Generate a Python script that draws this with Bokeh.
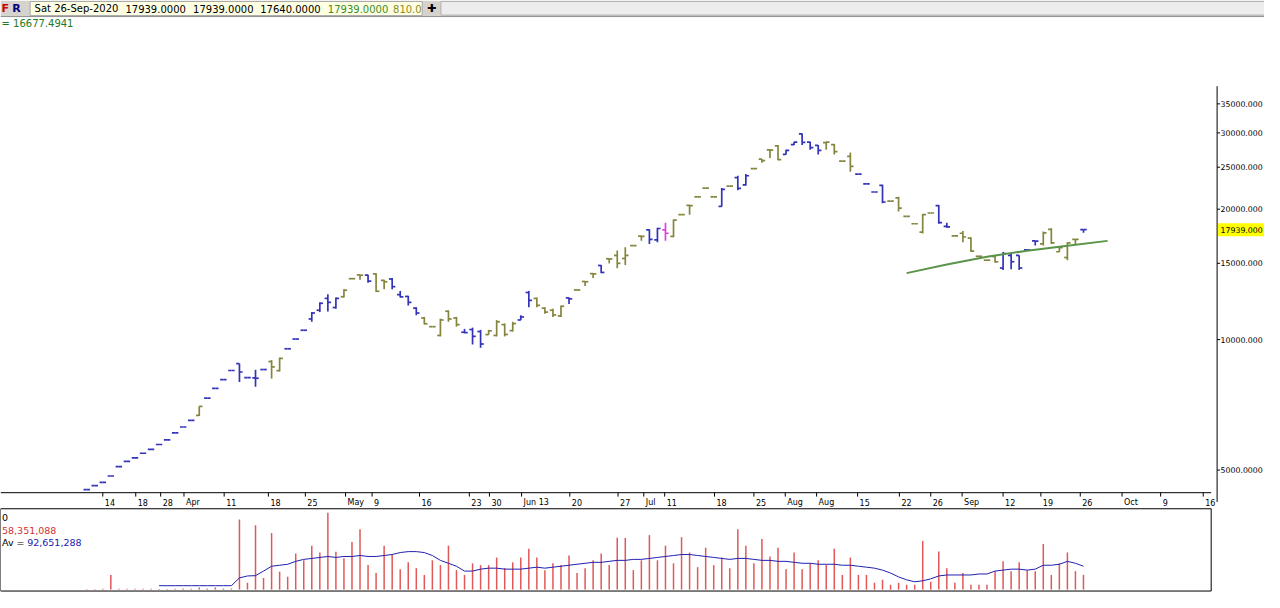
from bokeh.plotting import figure
from bokeh.models import Range1d, LinearScale, ColumnDataSource
from bokeh.core.properties import value
from bokeh.embed import file_html
from bokeh.resources import INLINE

# ---------------- data ----------------
bar_open = [4507, 4602, 4681, 4845, 5093, 5237, 5336, 5468, 5581, 5728,
            5868, 6094, 6286, 6509, 6685, 7330, 7720, 8089, 8487, 8800,
            8173, 8165, 8530, 8900, 8480, 9525, 10031, 10510, 11160, 11690,
            12450, 11860, 12560, 13823, 14100, 14090, 14180, 13700, 13800, 12700,
            12580, 11820, 11220, 10712, 10225, 11630, 11220, 10400, 10550, 10440,
            10270, 10225, 10830, 10490, 11100, 12845, 12450, 11820, 11690, 11340,
            12480, 13019, 13620, 14200, 14830, 15370, 15640, 15390, 16484, 17340,
            17920, 16990, 17920, 17300, 19422, 20400, 21355, 22370, 21355, 20310,
            22602, 23660, 22760, 24808, 26100, 27400, 28010, 26760, 28180, 29840,
            28560, 28080, 28500, 28180, 25816, 26470, 24099, 22889, 21910, 22686,
            20883, 21230, 19253, 18510, 17700, 19596, 20380, 18250, 17361, 17600,
            17150, 15572, 15252, 15550, 14630, 15640, 15640, 16122, 16900, 16630,
            17970, 15950, 15470, 17040, 17939]
bar_high = [4507, 4602, 4681, 4845, 5093, 5237, 5336, 5468, 5581, 5728,
            5868, 6094, 6286, 6509, 7022, 7330, 7720, 8089, 8487, 8814,
            8173, 8519, 8530, 8970, 9091, 9525, 10031, 10510, 11576, 12192,
            12726, 12510, 13061, 13823, 14112, 14112, 14236, 13751, 13873, 12953,
            12623, 11879, 11281, 10712, 11182, 11680, 11281, 10586, 10657, 10531,
            10531, 11091, 10897, 10994, 11382, 12953, 12510, 11879, 11778, 11985,
            12510, 13019, 13642, 14236, 14862, 15388, 16061, 16348, 16484, 17361,
            17970, 18129, 18607, 18927, 19422, 20456, 21355, 22370, 21355, 22370,
            22602, 23886, 24099, 24808, 26126, 27424, 28140, 27424, 28628, 29882,
            28628, 28140, 28628, 28288, 25816, 27047, 24099, 22889, 21910, 22767,
            20883, 21355, 19253, 18510, 19494, 19596, 20456, 18607, 17361, 17813,
            17219, 15572, 15252, 15651, 15928, 15789, 15651, 16122, 16915, 17757,
            18064, 16348, 16775, 17068, 17939]
bar_low = [4507, 4602, 4681, 4845, 5093, 5237, 5336, 5468, 5581, 5728,
           5868, 6094, 6286, 6509, 6667, 7330, 7720, 8089, 8487, 7989,
           8173, 7786, 8530, 8131, 8444, 9525, 10031, 10510, 10994, 11576,
           11618, 11778, 12510, 13823, 13751, 13521, 12886, 13061, 13061, 12510,
           11985, 11382, 10840, 10712, 10172, 10994, 10712, 10347, 9745, 9575,
           10262, 10172, 10172, 10439, 11091, 11879, 11879, 11476, 11281, 11281,
           12084, 13019, 13295, 13873, 14236, 14997, 14612, 14862, 16484, 16915,
           16628, 16775, 16915, 17219, 19422, 19422, 21355, 22370, 21355, 20277,
           22602, 22104, 22686, 24808, 25589, 26260, 25953, 26730, 28140, 28140,
           27424, 26730, 27424, 26730, 25816, 24389, 24099, 22889, 21910, 20635,
           20883, 19756, 19253, 18510, 17580, 19596, 18510, 18129, 17361, 16775,
           15928, 15572, 15252, 15049, 14485, 14538, 14485, 16122, 16484, 16484,
           16628, 15928, 15252, 16628, 17640]
bar_close = [4507, 4602, 4681, 4845, 5093, 5237, 5336, 5468, 5581, 5728,
             5868, 6094, 6286, 6509, 7015, 7330, 7720, 8089, 8487, 8420,
             8173, 8145, 8530, 8650, 9050, 9525, 10031, 10510, 11520, 12130,
             12190, 12450, 13000, 13823, 14080, 13650, 12930, 13600, 13250, 12550,
             12190, 11520, 10880, 10712, 11100, 11160, 10830, 10380, 10175, 9770,
             10480, 10994, 10280, 10890, 11280, 12320, 12000, 11576, 11400, 11940,
             12420, 13019, 13600, 14180, 14290, 15350, 15000, 15640, 16484, 17300,
             17040, 18050, 17600, 18880, 19422, 20380, 21355, 22370, 21355, 22230,
             22602, 22340, 23886, 24808, 25900, 27380, 26020, 27330, 28560, 28520,
             27740, 27330, 28560, 27160, 25816, 25120, 24099, 22889, 21910, 20780,
             20883, 20110, 19253, 18510, 19420, 19596, 18620, 18200, 17361, 17250,
             16010, 15572, 15252, 15120, 15800, 15130, 14630, 16122, 16880, 17630,
             16720, 16300, 16720, 17040, 17939]
# B = blue bar, O = olive bar, P = pink bar
bar_color_code = ("BBBBBBBBBBBBBB" "O" "BBBBBBBB" "OO" "BBBBBBB" "OOO" "B" "OO" "BBBB"
                  "OOOOO" "BBB" "OOOO" "BB" "OOOO" "B" "OOO" "B" "OOOOO" "BB" "P"
                  "OOOOOO" "B" "O" "BB" "OOOO" "BBBBB" "OOOO" "BBBB" "OOOOOO" "BB"
                  "OOOOOO" "BBBBB" "OOOOO" "B")
volume_m = [2, 2, 3, 58, 3, 3, 3, 3, 3, 2,
            2, 3, 4, 3, 8, 4, 8, 4, 4, 278,
            27, 255, 46, 224, 71, 51, 143, 116, 174, 147,
            305, 150, 124, 189, 239, 97, 66, 174, 139, 81,
            108, 85, 58, 116, 97, 174, 77, 58, 104, 97,
            97, 127, 85, 108, 127, 162, 127, 77, 104, 97,
            135, 66, 85, 116, 143, 97, 205, 205, 77, 116,
            216, 116, 174, 104, 208, 147, 89, 166, 97, 127,
            85, 239, 174, 104, 201, 131, 166, 81, 147, 81,
            104, 116, 97, 162, 58, 127, 58, 58, 27, 39,
            19, 27, 19, 19, 193, 31, 151, 85, 27, 66,
            19, 19, 19, 73, 112, 73, 108, 77, 73, 181,
            58, 104, 147, 73, 58.351088]
vol_avg_first_bar = 9   # 0-based index of first average value
vol_avg_m = [15.4, 15.4, 15.4, 15.4, 15.4, 15.4, 15.4, 15.4, 15.4, 15.4,
             46.3, 54.0, 55.2, 73.3, 92.6, 96.5, 100.4, 111.9, 119.7, 123.5,
             127.4, 131.2, 127.4, 131.2, 131.2, 135.1, 131.2, 131.2, 135.1, 139.0,
             146.7, 150.5, 150.5, 146.7, 135.1, 115.8, 104.2, 92.6, 73.3, 73.3,
             81.0, 84.9, 84.9, 81.0, 81.0, 81.0, 84.9, 88.8, 84.9, 88.8,
             92.6, 96.5, 100.4, 104.2, 108.0, 108.0, 111.9, 115.8, 115.8, 119.7,
             119.7, 123.5, 127.4, 131.2, 135.1, 139.0, 139.0, 135.1, 131.2, 127.4,
             123.5, 119.7, 123.5, 123.5, 119.7, 115.8, 115.8, 111.9, 111.9, 108.0,
             104.2, 104.2, 100.4, 100.4, 100.4, 96.5, 96.5, 92.6, 88.8, 84.9,
             77.2, 65.6, 50.2, 38.6, 30.9, 34.7, 42.5, 54.0, 57.9, 57.9,
             57.9, 57.9, 61.8, 61.8, 73.3, 77.2, 81.0, 81.0, 77.2, 81.0,
             96.5, 96.5, 100.4, 111.9, 104.2, 92.651288]
trend_idx = [102, 107, 112, 117, 122, 127]
trend_val = [14240, 14900, 15540, 16040, 16460, 16900]
trend_last = 16677.4941
date_tick_pos = [2.0, 6.1, 9.2, 12.1, 17.1, 22.6, 27.2, 32.2, 35.5, 41.4, 47.6, 50.1,
                 54.1, 60.1, 66.1, 69.3, 71.9, 78.1, 83.0, 86.9, 90.8, 95.9, 101.1,
                 105.0, 108.9, 114.0, 118.7, 123.6, 128.8, 133.6, 138.9]
date_tick_labels = ["14", "18", "28", "Apr", "11", "18", "25", "May", "9", "16", "23", "30",
                    "Jun 13", "20", "27", "Jul", "11", "18", "25", "Aug", "Aug", "15", "22",
                    "26", "Sep", "12", "19", "26", "Oct", "9", "16"]
price_ticks = [5000, 10000, 15000, 20000, 25000, 30000, 35000]
price_tick_labels = ["5000.0000", "10000.000", "15000.000", "20000.000",
                     "25000.000", "30000.000", "35000.000"]
last_price_label = "17939.000"
header_date = "Sat 26-Sep-2020"
header_volume = "810.0"

# ---------------- styling ----------------
FONT = value("DejaVu Sans")
COLORS = {"B": "#3333b8", "O": "#85853f", "P": "#e040e0"}
n = len(bar_close)
bar_x = list(range(n))
TICK = 0.4

src = ColumnDataSource(dict(
    x=bar_x,
    xl=[i - TICK for i in bar_x],
    xr=[i + TICK for i in bar_x],
    o=bar_open, h=bar_high, l=bar_low, c=bar_close,
    col=[COLORS[k] for k in bar_color_code],
))

p = figure(width=1264, height=592, output_backend="svg", toolbar_location=None,
           x_range=Range1d(-10.725, 146.52), y_range=Range1d(2608.7, 60620),
           y_axis_type="log", x_axis_location=None, y_axis_location=None,
           min_border=0, outline_line_color=None, background_fill_color="white",
           border_fill_color="white")
p.grid.visible = False
p.extra_x_ranges = {"px": Range1d(0, 1280)}
p.extra_x_scales = {"px": LinearScale()}
p.extra_y_ranges = {"py": Range1d(608, 0), "vol": Range1d(-11.58, 2335.3)}
p.extra_y_scales = {"py": LinearScale(), "vol": LinearScale()}


def ptext(x, y, text, color="black", size="10px", style="normal", align="left", xr="px", yr="py", xoff=0):
    p.text(x=x, y=y, text=text, text_color=color, text_font=FONT, text_font_size=size,
           text_font_style=style, text_align=align, text_baseline="middle",
           x_range_name=xr, y_range_name=yr, x_offset=xoff)


# ---------------- header bar ----------------
p.quad(left=[0], right=[1280], bottom=[17], top=[0], fill_color="#d6d3ce", line_color=None,
       x_range_name="px", y_range_name="py")
p.quad(left=[446], right=[1280], bottom=[15], top=[1], fill_color="#ededed", line_color="#b0b0b0",
       x_range_name="px", y_range_name="py")
p.quad(left=[30], right=[427], bottom=[15.5], top=[1], fill_color="#ffffe4", line_color="#a8a8a8",
       x_range_name="px", y_range_name="py")
p.segment(x0=[0], y0=[16.5], x1=[1280], y1=[16.5], line_color="#909090", line_width=1,
          x_range_name="px", y_range_name="py")
ptext([1], [8.5], ["F"], color="#cc0000", size="11px", style="bold")
ptext([12], [8.5], ["R"], color="#000080", size="11px", style="bold")
ptext([34.5], [8.5], [header_date])
ptext([126.5, 195, 263], [8.5, 8.5, 8.5],
      [f"{bar_open[-1]:.4f}", f"{bar_high[-1]:.4f}", f"{bar_low[-1]:.4f}"])
ptext([331.5], [8.5], [f"{bar_close[-1]:.4f}"], color="#3c8c28")
ptext([397.5], [8.5], [header_volume], color="#8c8c1e")
ptext([432], [8], ["\u271a"], size="11px")
ptext([1], [24], [f"= {trend_last:.4f}"], color="#1e7a1e")

# ---------------- price bars ----------------
p.segment(x0="x", y0="l", x1="x", y1="h", line_color="col", line_width=1.7, source=src)
p.segment(x0="xl", y0="o", x1="x", y1="o", line_color="col", line_width=1.7, source=src)
p.segment(x0="x", y0="c", x1="xr", y1="c", line_color="col", line_width=1.7, source=src)

# trend line
p.line(trend_idx, trend_val, line_color="#5a9448", line_width=2)

# ---------------- right price axis ----------------
p.segment(x0=[1232], y0=[88], x1=[1232], y1=[515], line_color="black", line_width=1,
          x_range_name="px", y_range_name="py")
p.segment(x0=[1232] * len(price_ticks), y0=price_ticks, x1=[1235] * len(price_ticks), y1=price_ticks,
          line_color="black", line_width=1, x_range_name="px")
ptext([1235.5] * len(price_ticks), price_ticks, price_tick_labels, size="7.8px", yr="default")
p.rect(x=[1258], y=[bar_close[-1]], width=50, height=13, height_units="screen",
       fill_color="#ffff00", line_color=None, x_range_name="px")
ptext([1235.5], [bar_close[-1]], [last_price_label], size="7.8px", yr="default")

# ---------------- date axis ----------------
p.segment(x0=[0], y0=[505.5], x1=[1226], y1=[505.5], line_color="black", line_width=1,
          x_range_name="px", y_range_name="py")
p.segment(x0=date_tick_pos, y0=[505.5] * len(date_tick_pos), x1=date_tick_pos,
          y1=[509.5] * len(date_tick_pos), line_color="black", line_width=1, y_range_name="py")
ptext(date_tick_pos, [516] * len(date_tick_pos), date_tick_labels, size="8px",
      xr="default", xoff=2)

# ---------------- volume panel ----------------
p.quad(left=[0], right=[1226], bottom=[606.5], top=[522], fill_color=None, line_color="black",
       line_width=1, x_range_name="px", y_range_name="py")
p.segment(x0=bar_x, y0=[0] * n, x1=bar_x, y1=volume_m, line_color="#e05858", line_width=1.5,
          y_range_name="vol")
p.line(bar_x[vol_avg_first_bar:], vol_avg_m, line_color="#2020b0", line_width=1,
       y_range_name="vol")
ptext([1.5], [531], ["0"], size="9.5px")
ptext([1.5], [544], [f"{volume_m[-1] * 1e6:,.0f}"], color="#cc3333", size="9.5px")
ptext([1.5], [557], ["Av ="], size="9.5px")
ptext([27], [557], [f"{vol_avg_m[-1] * 1e6:,.0f}"], color="#2020b0", size="9.5px")

open("out.html", "w").write(file_html(p, INLINE))
